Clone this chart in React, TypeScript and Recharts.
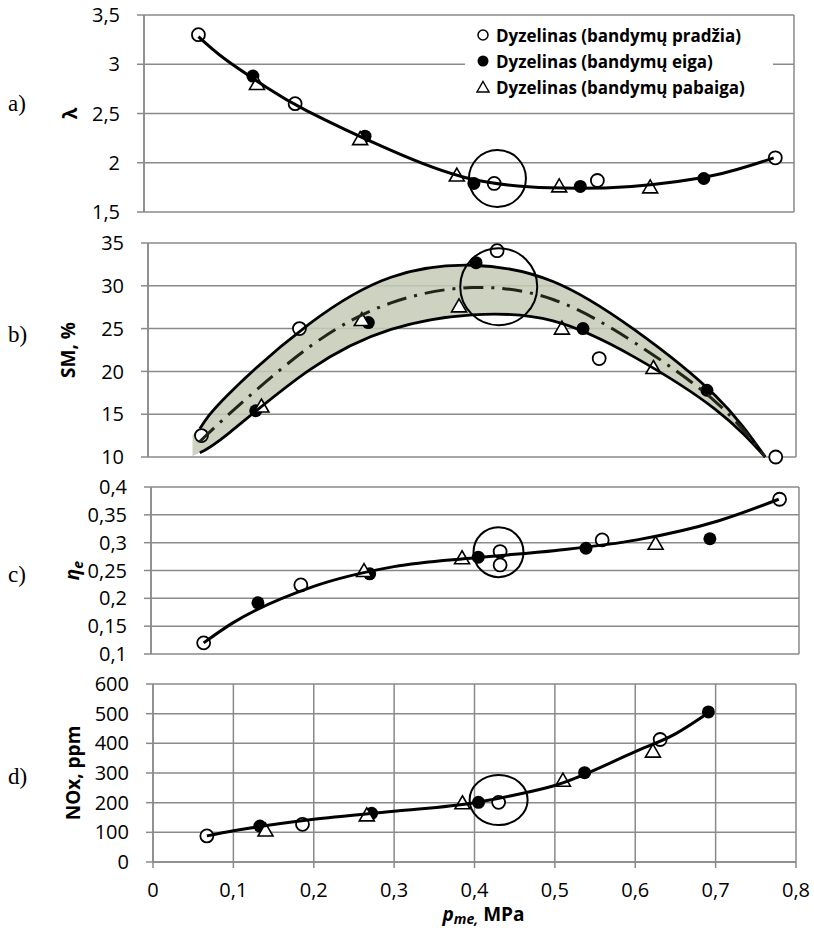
import React from 'react';
import {
  ComposedChart,
  Line,
  Area,
  Scatter,
  XAxis,
  YAxis,
  CartesianGrid,
  ReferenceDot,
  Legend,
} from 'recharts';

const FONT = '"Open Sans", sans-serif';
const GRID = '#8a8a8a';
const W = 814;

const xTicks = [0, 0.1, 0.2, 0.3, 0.4, 0.5, 0.6, 0.7, 0.8];
const seriesNames = [
  'Dyzelinas (bandymų pradžia)',
  'Dyzelinas (bandymų eiga)',
  'Dyzelinas (bandymų pabaiga)',
];

// a) lambda
const lamStartX = [0.067, 0.186, 0.431, 0.558, 0.777];
const lamStartY = [3.3, 2.6, 1.79, 1.82, 2.05];
const lamMidX = [0.134, 0.272, 0.406, 0.537, 0.689];
const lamMidY = [2.88, 2.27, 1.79, 1.76, 1.84];
const lamEndX = [0.139, 0.266, 0.385, 0.511, 0.623];
const lamEndY = [2.8, 2.24, 1.87, 1.76, 1.75];
const lamFitX = [0.067, 0.1, 0.15, 0.2, 0.3, 0.4, 0.5, 0.6, 0.7, 0.775];
const lamFitY = [3.28, 3.05, 2.77, 2.53, 2.14, 1.84, 1.745, 1.76, 1.87, 2.05];

// b) SM, %
const smStartX = [0.066, 0.187, 0.431, 0.557, 0.775];
const smStartY = [12.5, 25.0, 34.1, 21.5, 10.0];
const smMidX = [0.133, 0.272, 0.405, 0.537, 0.69];
const smMidY = [15.4, 25.7, 32.7, 25.0, 17.8];
const smEndX = [0.14, 0.264, 0.384, 0.511, 0.624];
const smEndY = [15.9, 26.0, 27.6, 25.0, 20.4];
const smCurveX = [0.064, 0.1, 0.2, 0.3, 0.4, 0.5, 0.6, 0.7, 0.762];
const smUpper = [13.3, 17.4, 25.6, 31.0, 32.4, 30.5, 24.9, 17.2, 10];
const smLower = [10.5, 12.8, 20.2, 24.9, 26.6, 25.9, 21.7, 15.6, 10];
const smAvg = [11.8, 15.0, 22.9, 28.0, 29.8, 28.4, 23.4, 16.5, 10];

// c) efficiency
const effStartX = [0.065, 0.185, 0.431, 0.431, 0.557, 0.776];
const effStartY = [0.12, 0.224, 0.284, 0.26, 0.305, 0.378];
const effMidX = [0.132, 0.27, 0.404, 0.537, 0.69];
const effMidY = [0.192, 0.244, 0.274, 0.29, 0.307];
const effEndX = [0.263, 0.384, 0.623];
const effEndY = [0.249, 0.272, 0.298];
const effFitX = [0.065, 0.1, 0.2, 0.3, 0.4, 0.5, 0.6, 0.7, 0.775];
const effFitY = [0.12, 0.155, 0.221, 0.257, 0.273, 0.286, 0.305, 0.339, 0.378];

// d) NOx, ppm
const noxStartX = [0.067, 0.186, 0.43, 0.631];
const noxStartY = [88, 127, 201, 413];
const noxMidX = [0.133, 0.272, 0.405, 0.537, 0.691];
const noxMidY = [121, 164, 201, 301, 506];
const noxEndX = [0.14, 0.266, 0.385, 0.51, 0.622];
const noxEndY = [106, 157, 198, 274, 372];
const noxFitX = [0.067, 0.1, 0.2, 0.3, 0.4, 0.45, 0.5, 0.6, 0.65, 0.691];
const noxFitY = [88, 105, 144, 171, 200, 226, 258, 372, 432, 503];

const pts = (xs: number[], ys: number[]) => xs.map((x, i) => ({ x, y: ys[i] }));
const fmt = (v: number) => String(v).replace('.', ',');

const OpenDot = (p: any) => (
  <circle cx={p.cx} cy={p.cy} r={6.5} fill="#fff" stroke="#000" strokeWidth={1.8} />
);
const FilledDot = (p: any) => <circle cx={p.cx} cy={p.cy} r={6.5} fill="#000" />;
const OpenTri = (p: any) => (
  <path
    d={`M${p.cx},${p.cy - 7.5}L${p.cx + 7.5},${p.cy + 5.5}L${p.cx - 7.5},${p.cy + 5.5}Z`}
    fill="#fff"
    stroke="#000"
    strokeWidth={1.6}
  />
);

const markers = [
  <svg width={14} height={14} key="o"><circle cx={7} cy={7} r={5} fill="#fff" stroke="#000" strokeWidth={1.5} /></svg>,
  <svg width={14} height={14} key="f"><circle cx={7} cy={7} r={5.5} fill="#000" /></svg>,
  <svg width={14} height={14} key="t"><path d="M7,1.5L13,12L1,12Z" fill="#fff" stroke="#000" strokeWidth={1.4} /></svg>,
];

const LegendBox = () => (
  <div style={{ background: '#fff', fontFamily: FONT, fontWeight: 700, fontSize: 17 }}>
    {seriesNames.map((n, i) => (
      <div key={n} style={{ display: 'flex', alignItems: 'center', height: 26, paddingLeft: 11 }}>
        {markers[i]}
        <span style={{ marginLeft: 6, whiteSpace: 'nowrap' }}>{n}</span>
      </div>
    ))}
  </div>
);

const yTitle = (dx: number, parts: React.ReactNode) => (props: any) => {
  const { x, y, width, height } = props.viewBox;
  const cx = x + width - dx;
  const cy = y + height / 2;
  return (
    <text
      x={cx}
      y={cy}
      transform={`rotate(-90 ${cx} ${cy})`}
      textAnchor="middle"
      dominantBaseline="central"
      fontFamily={FONT}
      fontWeight={700}
      fontSize={19}
      fill="#000"
    >
      {parts}
    </text>
  );
};

const xTitle = (props: any) => {
  const { x, y, width } = props.viewBox;
  return (
    <text x={x + width / 2 + 9} y={y + 59} textAnchor="middle" fontFamily={FONT} fontWeight={700} fontSize={19} fill="#000">
      <tspan fontStyle="italic">p</tspan>
      <tspan fontStyle="italic" fontSize={14} dy={3}>me,</tspan>
      <tspan dy={-3}> MPa</tspan>
    </text>
  );
};

const tickStyle = { fontFamily: FONT, fontSize: 20, fill: '#000' };

type PanelProps = {
  plotLeft: number;
  plotRight: number;
  plotTop: number;
  plotBottom: number;
  yDomain: [number, number];
  yTicks: number[];
  title: (p: any) => React.ReactNode;
  bottomAxis?: boolean;
  children: React.ReactNode;
};

const PAD = 20;

// every panel gets its own chart, stacked absolutely; the extra padding keeps tick labels from clipping
const Panel = ({ plotLeft, plotRight, plotTop, plotBottom, yDomain, yTicks, title, bottomAxis, children }: PanelProps) => {
  const top = plotTop - PAD;
  const height = bottomAxis ? 928 - top : plotBottom - plotTop + 2 * PAD;
  return (
    <div style={{ position: 'absolute', left: 0, top, width: W, height }}>
      <ComposedChart
        width={W}
        height={height}
        margin={{ top: PAD, bottom: bottomAxis ? 0 : PAD, left: plotLeft - 100, right: W - plotRight }}
      >
        <CartesianGrid stroke={GRID} strokeWidth={1.5} />
        <XAxis
          type="number"
          dataKey="x"
          domain={[0, 0.8]}
          ticks={xTicks}
          interval={0}
          height={bottomAxis ? 928 - plotBottom : 0}
          tick={bottomAxis ? tickStyle : false}
          tickLine={bottomAxis ? { stroke: GRID, strokeWidth: 1.5 } : false}
          tickSize={6}
          tickMargin={15}
          tickFormatter={fmt}
          axisLine={{ stroke: GRID, strokeWidth: 1.5 }}
          label={bottomAxis ? { content: xTitle } : undefined}
        />
        <YAxis
          type="number"
          domain={yDomain}
          ticks={yTicks}
          interval={0}
          width={100}
          tick={tickStyle}
          tickLine={{ stroke: GRID, strokeWidth: 1.5 }}
          tickSize={7}
          tickMargin={17}
          tickFormatter={fmt}
          axisLine={{ stroke: GRID, strokeWidth: 1.5 }}
          label={{ content: title }}
        />
        {children}
      </ComposedChart>
    </div>
  );
};

const seriesMarks = (start: any[], mid: any[], end: any[]) => [
  <Scatter key="s" name={seriesNames[0]} data={start} dataKey="y" shape={OpenDot} isAnimationActive={false} />,
  <Scatter key="m" name={seriesNames[1]} data={mid} dataKey="y" shape={FilledDot} isAnimationActive={false} />,
  <Scatter key="e" name={seriesNames[2]} data={end} dataKey="y" shape={OpenTri} isAnimationActive={false} />,
];

const curve = (data: any[], extra: any = {}) => (
  <Line
    data={data}
    dataKey="y"
    type="monotone"
    stroke="#000"
    strokeWidth={3}
    dot={false}
    activeDot={false}
    isAnimationActive={false}
    zIndex={700}
    {...extra}
  />
);

const panelTag = (t: string, top: number) => (
  <div
    style={{
      position: 'absolute',
      left: 8,
      top,
      fontFamily: '"Liberation Serif", serif',
      fontSize: 23,
      lineHeight: '23px',
    }}
  >
    {t}
  </div>
);

const smBand = [{ x: 0.055, band: [10.1, 12.6] }, ...smCurveX.map((x, i) => ({ x, band: [smLower[i], smUpper[i]] }))];

export default function App() {
  return (
    <div style={{ position: 'absolute', left: 0, top: 0, width: W, height: 928, background: '#fff', overflow: 'hidden' }}>
      <Panel
        plotLeft={144}
        plotRight={794}
        plotTop={15}
        plotBottom={212}
        yDomain={[1.5, 3.5]}
        yTicks={[1.5, 2, 2.5, 3, 3.5]}
        title={yTitle(74, 'λ')}
      >
        {seriesMarks(pts(lamStartX, lamStartY), pts(lamMidX, lamMidY), pts(lamEndX, lamEndY))}
        {curve(pts(lamFitX, lamFitY), { type: 'natural' })}
        <ReferenceDot x={0.435} y={1.84} r={28.5} fill="none" stroke="#000" strokeWidth={2} />
        <Legend
          layout="vertical"
          align="center"
          verticalAlign="middle"
          wrapperStyle={{ left: 465, top: 27, width: 308, height: 78 }}
          content={() => <LegendBox />}
        />
      </Panel>

      <Panel
        plotLeft={148}
        plotRight={796}
        plotTop={243}
        plotBottom={457}
        yDomain={[10, 35]}
        yTicks={[10, 15, 20, 25, 30, 35]}
        title={yTitle(80, 'SM, %')}
      >
        <Area
          data={smBand}
          dataKey="band"
          type="natural"
          stroke="none"
          fill="#c6cab5"
          fillOpacity={0.85}
          isAnimationActive={false}
        />
        {seriesMarks(pts(smStartX, smStartY), pts(smMidX, smMidY), pts(smEndX, smEndY))}
        {curve(pts(smCurveX, smUpper), { strokeWidth: 2.8, type: 'natural' })}
        {curve(pts(smCurveX, smLower), { strokeWidth: 2.8, type: 'natural' })}
        {curve(pts(smCurveX, smAvg), { stroke: '#1f2617', strokeDasharray: '20 8 3 8', type: 'natural' })}
        <ReferenceDot x={0.433} y={29.9} r={38.5} fill="none" stroke="#000" strokeWidth={2} />
      </Panel>

      <Panel
        plotLeft={151}
        plotRight={799}
        plotTop={487}
        plotBottom={654}
        yDomain={[0.1, 0.4]}
        yTicks={[0.1, 0.15, 0.2, 0.25, 0.3, 0.35, 0.4]}
        title={yTitle(79, [
          <tspan key="n" fontStyle="italic">η</tspan>,
          <tspan key="e" fontStyle="italic" fontSize={14} dy={5}>e</tspan>,
        ])}
      >
        {seriesMarks(pts(effStartX, effStartY), pts(effMidX, effMidY), pts(effEndX, effEndY))}
        {curve(pts(effFitX, effFitY))}
        <ReferenceDot x={0.429} y={0.283} r={25} fill="none" stroke="#000" strokeWidth={2} />
      </Panel>

      <Panel
        plotLeft={153}
        plotRight={796}
        plotTop={684}
        plotBottom={862}
        yDomain={[0, 600]}
        yTicks={[0, 100, 200, 300, 400, 500, 600]}
        title={yTitle(80, 'NOx, ppm')}
        bottomAxis
      >
        {seriesMarks(pts(noxStartX, noxStartY), pts(noxMidX, noxMidY), pts(noxEndX, noxEndY))}
        {curve(pts(noxFitX, noxFitY))}
        <ReferenceDot
          x={0.43}
          y={209}
          shape={(p: any) => (
            <ellipse cx={p.cx} cy={p.cy} rx={29} ry={25} fill="none" stroke="#000" strokeWidth={2} />
          )}
        />
      </Panel>

      {panelTag('a)', 92)}
      {panelTag('b)', 323)}
      {panelTag('c)', 563)}
      {panelTag('d)', 765)}
    </div>
  );
}
